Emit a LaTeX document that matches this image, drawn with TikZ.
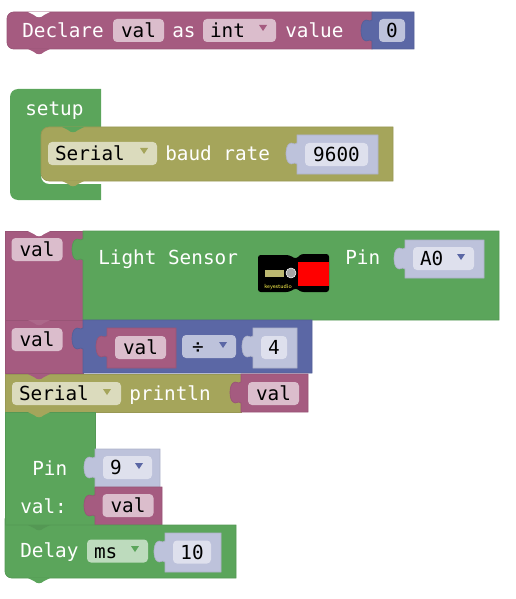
\documentclass[tikz,border=0pt]{standalone}
\usepackage{fontspec}
\setmonofont{DejaVu Sans Mono}
\definecolor{varcol}{HTML}{A55B80}
\definecolor{mathcol}{HTML}{5B67A5}
\definecolor{serialcol}{HTML}{A5A55B}
\definecolor{ctrlcol}{HTML}{5BA55B}
\definecolor{socketcol}{HTML}{BDC2DB}
\definecolor{varfield}{HTML}{DBBDCC}
\definecolor{mathfield}{HTML}{DEE0ED}
\definecolor{serialfield}{HTML}{DBDBBD}
\definecolor{ctrlfield}{HTML}{BDDBBD}
\tikzset{
  blocktext/.style={inner sep=0pt,anchor=west,text=white,font=\ttfamily\fontsize{14.5}{16}\selectfont,text height=12pt,text depth=1.4pt},
  fieldbox/.style={fill=#1,rounded corners=3pt,inner xsep=0pt,inner ysep=0pt,minimum height=17.25pt,text=black,font=\ttfamily\fontsize{14.5}{16}\selectfont,text height=12pt,text depth=1.4pt},
  dropbox/.style 2 args={fieldbox=#1,align=left,inner xsep=5.25pt,text width=#2*0.75pt-10.5pt},
  edge/.style={draw=#1!92!black,line width=0.5pt}
}
% puzzle tab on the left side of a block, walked upwards
\newcommand{\tabcurve}[2]{-- (#1,#2+29) .. controls (#1-3,#2+26) and (#1-5,#2+31) .. (#1-8,#2+28) .. controls (#1-12,#2+25) and (#1-12,#2+12) .. (#1-8,#2+9) .. controls (#1-5,#2+6) and (#1-3,#2+11) .. (#1,#2+8)}
\newcommand{\tabblock}[5]{\filldraw[fill=#5,edge=#5] (#1,#2) -- (#3,#2) -- (#3,#4) -- (#1,#4) \tabcurve{#1}{#2} -- cycle;}
\newcommand{\plainblock}[5]{\filldraw[fill=#5,edge=#5] (#1,#2) rectangle (#3,#4);}
% bump of a statement block, hanging over the top of the next one
\newcommand{\bump}[3]{\fill[#3] (#1,#2) -- (#1+6,#2+3) .. controls (#1+9,#2+6) and (#1+13,#2+6) .. (#1+16,#2+3) -- (#1+22,#2) -- cycle;}
\newcommand{\droptip}[3]{\fill[#3] (#1-4,#2-3) -- (#1+4,#2-3) -- (#1,#2+3) -- cycle;}
\begin{document}
\begin{tikzpicture}[x=0.75pt,y=-0.75pt]
  \useasboundingbox (0,0) rectangle (515,599);
  % Declare
  \filldraw[fill=varcol,edge=varcol] (100,49) [rounded corners=5pt] -- (7,49) -- (7,12) [sharp corners] -- (100,12) -- (372,12) -- (372,49) -- cycle;
  \bump{28}{49}{varcol}
  \bump{28}{12}{white}
  \tabblock{372}{12}{414}{49}{mathcol}
  \node[blocktext] (declare) at (22,30.5) {Declare};
  \node[fieldbox=varfield,minimum width=38.25pt] (declname) at (138.5,30.5) {val};
  \node[blocktext] (declas) at (172,30.5) {as};
  \node[dropbox={varfield}{73}] (decltype) at (239.5,30.5) {int};
  \droptip{263}{28}{varcol}
  \node[blocktext] (declvalue) at (285,30.5) {value};
  \node[fieldbox=socketcol,minimum width=19.5pt] (declzero) at (392,30.5) {0};
  % setup
  \fill[ctrlcol] (101,200) [rounded corners=6pt] -- (10,200) -- (10,89) [sharp corners] -- (101,89) -- (101,140) -- (41,140) [rounded corners=6pt] -- (41,184) [sharp corners] -- (101,184) -- cycle;
  \filldraw[fill=serialcol,edge=serialcol] (393,181) -- (100,181) [rounded corners=6pt] -- (41,181) -- (41,127) [sharp corners] -- (100,127) -- (393,127) -- cycle;
  \bump{62}{181}{serialcol}
  \bump{62}{127}{ctrlcol}
  \tabblock{297}{135}{378}{174}{socketcol}
  \node[blocktext] (setup) at (25,108) {setup};
  \node[dropbox={serialfield}{109}] (baudport) at (102.5,153.5) {Serial};
  \droptip{144}{151}{serialcol}
  \node[blocktext] (baud) at (165,153.5) {baud rate};
  \node[fieldbox=mathfield,minimum width=47.25pt] (baudvalue) at (336.5,154.5) {9600};
  % Light Sensor
  \plainblock{5}{231}{83}{320}{varcol}
  \bump{28}{231}{white}
  \tabblock{83}{231}{499}{320}{ctrlcol}
  \node[fieldbox=varfield,minimum width=38.25pt] (readvar) at (37,249.5) {val};
  \node[blocktext] (lightlabel) at (98,257) {Light Sensor};
  \fill[black,rounded corners=2pt] (258,255) -- (289,255) -- (296,259) -- (301,254) -- (329,254) -- (329,292) -- (301,292) -- (296,288) -- (289,292) -- (258,292) -- cycle;
  \fill[red] (298,262) rectangle (329,286);
  \filldraw[fill=gray!70,draw=white] (291,273) circle (5);
  \fill[gray!60!yellow] (265,270) rectangle (284,277);
  \node[inner sep=0pt,text=yellow!70!white,font=\sffamily\fontsize{4.5}{5}\selectfont] (keyestudio) at (278,287) {keyestudio};
  \node[blocktext] (lightpin) at (345,257) {Pin};
  \tabblock{405}{240}{484}{278}{socketcol}
  \node[dropbox={mathfield}{61}] (lightport) at (443.5,258.5) {A0};
  \droptip{461}{257}{mathcol}
  % val = val / 4
  \plainblock{5}{320}{83}{373}{varcol}
  \tabblock{83}{320}{312}{373}{mathcol}
  \bump{28}{320}{varcol!92!white}
  \node[fieldbox=varfield,minimum width=38.25pt] (divvar) at (37,339.5) {val};
  \tabblock{107}{328}{176}{368}{varcol}
  \node[fieldbox=varfield,minimum width=38.25pt] (divarg) at (140.5,347.5) {val};
  \node[dropbox={socketcol}{54}] (divop) at (209,346.5) {\,÷};
  \droptip{223}{345}{mathcol}
  \tabblock{253}{328}{297}{368}{socketcol}
  \node[fieldbox=mathfield,minimum width=19.5pt] (divisor) at (274,347.5) {4};
  % Serial println
  \plainblock{5}{374}{241}{412}{serialcol}
  \bump{28}{374}{varcol}
  \tabblock{241}{374}{308}{412}{varcol}
  \node[dropbox={serialfield}{109}] (printport) at (66.5,393.5) {Serial};
  \droptip{107}{392}{serialcol}
  \node[blocktext] (println) at (129,393.5) {println};
  \node[fieldbox=varfield,minimum width=38.25pt] (printarg) at (273.5,393.5) {val};
  % Pin and val:
  \plainblock{5}{412}{95}{525}{ctrlcol}
  \bump{28}{412}{serialcol}
  \tabblock{95}{449}{160}{487}{socketcol}
  \tabblock{95}{487}{162}{525}{varcol}
  \node[blocktext] (pwmpin) at (32,468) {Pin};
  \node[blocktext] (pwmval) at (20,506) {val:};
  \node[dropbox={mathfield}{49}] (pwmport) at (127.5,467.5) {9};
  \droptip{139}{466}{mathcol}
  \node[fieldbox=varfield,minimum width=38.25pt] (pwmarg) at (128,505.5) {val};
  % Delay
  \filldraw[fill=ctrlcol,edge=ctrlcol] (236,578) -- (100,578) [rounded corners=5pt] -- (5,578) -- (5,525) [sharp corners] -- (5,525) -- (236,525) -- cycle;
  \bump{28}{525}{ctrlcol!92!black}
  \bump{28}{578}{ctrlcol}
  \tabblock{165}{533}{221}{572}{socketcol}
  \node[blocktext] (delay) at (20,550.5) {Delay};
  \node[dropbox={ctrlfield}{61}] (delayunit) at (117.5,551) {ms};
  \droptip{135}{549}{ctrlcol}
  \node[fieldbox=mathfield,minimum width=28.5pt] (delaytime) at (192,552) {10};
\end{tikzpicture}
\end{document}
